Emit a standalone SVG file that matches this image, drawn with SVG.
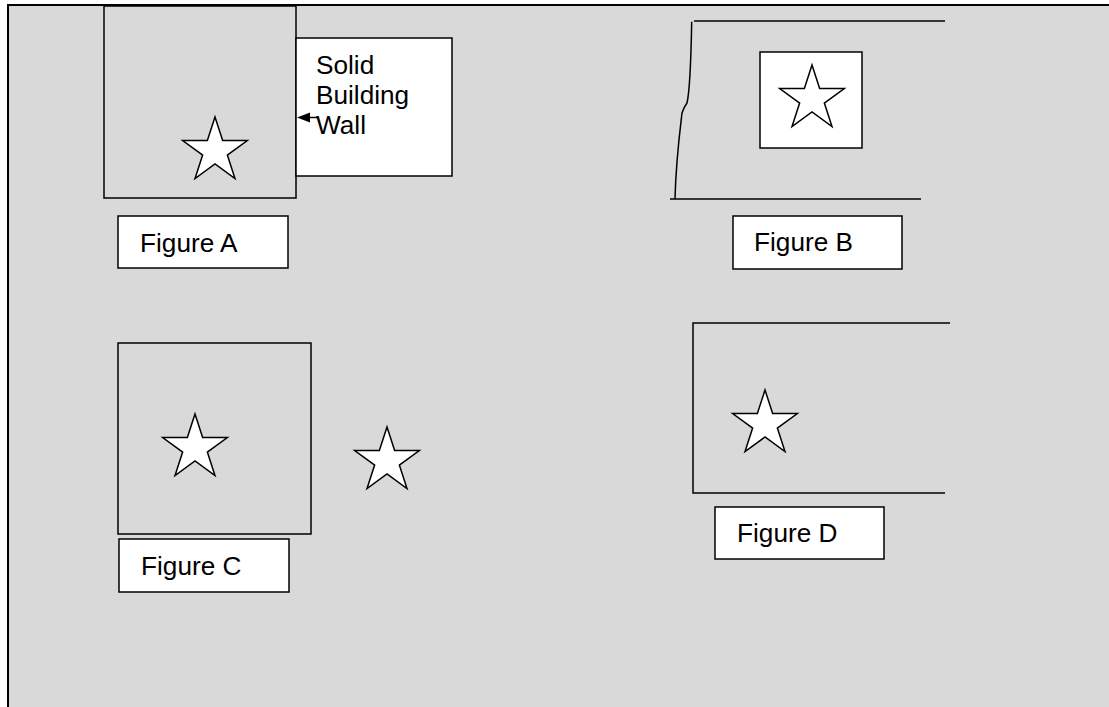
<svg xmlns="http://www.w3.org/2000/svg" xmlns:xlink="http://www.w3.org/1999/xlink" width="1109" height="707" viewBox="0 0 1109 707">
<style>
.bg{fill:#D9D9D9;stroke:none}
.frame{stroke:#000;stroke-width:2;fill:none}
.box{fill:none;stroke:#000;stroke-width:1.5}
.wbox{fill:#fff;stroke:#000;stroke-width:1.5}
.ln{fill:none;stroke:#000;stroke-width:1.5}
.star{fill:#fff;stroke:#000;stroke-width:1.5;stroke-linejoin:miter}
.lbl{font-family:"Liberation Sans",Arial,sans-serif;font-size:26.2px;fill:#000}
</style>
<defs>
<polygon id="star" class="star" points="0,-34 7.64,-10.52 32.34,-10.51 12.36,4.02 19.98,27.51 0,13 -19.98,27.51 -12.36,4.02 -32.34,-10.51 -7.64,-10.52"/>
</defs>
<rect x="0" y="0" width="1109" height="707" fill="#fff"/>
<rect class="bg" x="8" y="5" width="1101" height="702"/>
<g id="frame">
<line class="frame" x1="7" y1="5" x2="1109" y2="5"/>
<line class="frame" x1="8" y1="5" x2="8" y2="707"/>
</g>

<g id="figureA">
<rect class="box" x="104" y="6" width="192" height="192"/>
<use xlink:href="#star" x="215" y="151"/>
</g>
<g id="wall">
<rect class="wbox" x="296" y="38" width="156" height="138"/>
<text class="lbl" x="316" y="74">Solid</text>
<text class="lbl" x="316" y="104">Building</text>
<text class="lbl" x="316" y="134">Wall</text>
</g>
<g id="labelA">
<rect class="wbox" x="118" y="216" width="170" height="52"/>
<text class="lbl" x="140" y="252">Figure A</text>
</g>

<g id="figureB">
<line class="ln" x1="694" y1="21" x2="945" y2="21"/>
<line class="ln" x1="670" y1="199" x2="921" y2="199"/>
<path class="ln" d="M691.7,21.7 C691,60 690,90 687,103 Q684,107 682,113 C680,130 676,160 675,199"/>
<rect class="wbox" x="760" y="52" width="102" height="96"/>
<use xlink:href="#star" x="812" y="99"/>
</g>
<g id="labelB">
<rect class="wbox" x="733" y="216" width="169" height="53"/>
<text class="lbl" x="754" y="251">Figure B</text>
</g>

<g id="figureC">
<rect class="box" x="118" y="343" width="193" height="191"/>
<use xlink:href="#star" x="195" y="448"/>
</g>
<g id="starOutside">
<use xlink:href="#star" x="387" y="461"/>
</g>
<g id="labelC">
<rect class="wbox" x="119" y="539" width="170" height="53"/>
<text class="lbl" x="141" y="575">Figure C</text>
</g>

<g id="figureD">
<polyline class="ln" points="950,323 693,323 693,493 945,493"/>
<use xlink:href="#star" x="765" y="424"/>
</g>
<g id="labelD">
<rect class="wbox" x="715" y="507" width="169" height="52"/>
<text class="lbl" x="737" y="542">Figure D</text>
</g>

<g id="connectors">
<line class="ln" x1="318" y1="117.5" x2="308" y2="117.5"/>
<polygon points="297,117.5 310,112.5 310,122.5" fill="#000"/>
</g>
</svg>
